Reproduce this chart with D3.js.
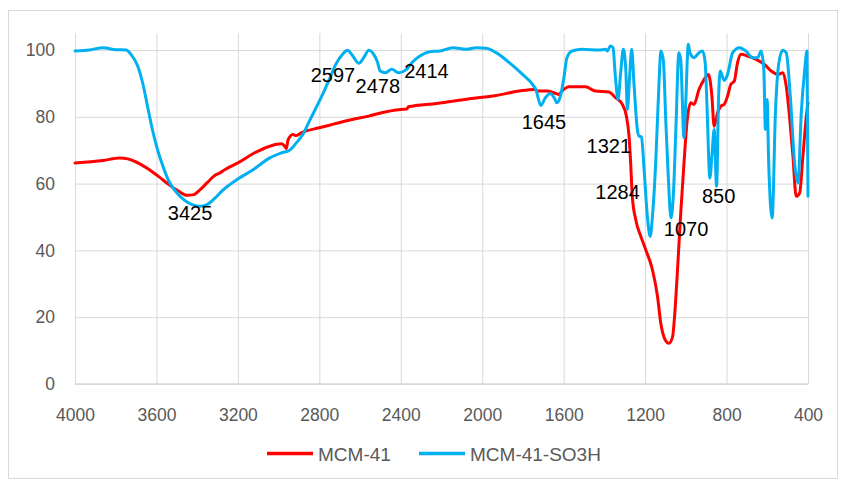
<!DOCTYPE html>
<html>
<head>
<meta charset="utf-8">
<script src="https://cdn.jsdelivr.net/npm/d3@7"></script>
<style>
  html, body { margin: 0; padding: 0; background: #fff; }
  svg { display: block; font-family: "Liberation Sans", Arial, sans-serif; }
</style>
</head>
<body>
<svg id="chart" width="843" height="479"></svg>
<script>
// ---- data ----
const seriesNames = ["MCM-41", "MCM-41-SO3H"];
const xTicks = [4000, 3600, 3200, 2800, 2400, 2000, 1600, 1200, 800, 400];
const yTicks = [0, 20, 40, 60, 80, 100];

const mcmWn = [4000,3862,3781,3740,3684,3636,3587,3539,3490,3450,3417,3385,3352,3312,3288,3263,3240,3200,3124,3043,2986,2970,2962,2954,2930,2913,2889,2800,2719,2638,2557,2509,2400,2370,2363,2224,2062,1932,1818,1745,1723,1682,1649,1625,1600,1575,1493,1444,1378,1345,1312,1292,1279,1271,1263,1246,1221,1197,1164,1139,1123,1101,1083,1065,1055,1042,1025,1009,993,976,960,935,910,889,872,861,844,828,812,795,779,762,746,729,696,655,614,581,548,523,507,491,474,458,441,425,408,400];
const mcmT  = [66.2,66.9,67.7,67.4,66.0,64.2,62.0,59.7,57.7,56.5,56.7,58.2,60.2,62.5,63.2,64.2,65.0,66.2,69.0,71.2,71.9,71.2,70.5,73.0,74.7,74.4,75.2,76.7,78.0,79.2,80.2,81.0,82.2,82.3,83.0,84.0,85.4,86.4,87.7,88.2,87.7,87.7,87.2,86.7,88.2,89.0,89.0,87.7,87.4,85.7,83.7,80.2,74.2,66.2,56.2,49.2,44.2,40.2,34.2,26.2,18.2,13.2,12.2,14.2,20.5,33.0,51.2,66.2,79.2,84.2,83.7,88.2,91.2,92.7,86.2,77.2,81.2,83.2,83.7,86.2,89.7,90.7,96.2,98.7,98.2,97.2,95.7,93.7,92.7,93.2,89.2,80.2,68.2,56.2,57.2,68.2,80.2,84.2];

const so3hWn = [4000,3930,3862,3800,3749,3725,3692,3668,3644,3620,3595,3571,3539,3506,3466,3425,3385,3352,3312,3288,3271,3240,3200,3124,3043,2986,2946,2913,2881,2849,2816,2784,2751,2719,2686,2662,2638,2606,2582,2557,2533,2515,2501,2476,2444,2411,2371,2346,2306,2257,2208,2143,2078,2029,1980,1932,1867,1802,1753,1737,1712,1690,1665,1645,1633,1616,1600,1584,1559,1509,1427,1394,1386,1370,1358,1345,1333,1320,1307,1295,1287,1276,1266,1254,1238,1230,1218,1205,1189,1175,1164,1148,1131,1123,1111,1098,1087,1073,1060,1049,1034,1025,1009,1000,988,980,960,935,918,905,896,882,872,861,849,839,831,812,795,770,737,705,672,647,630,617,609,601,593,576,560,543,524,507,487,466,449,433,416,405,400];
const so3hT  = [99.7,100.0,100.7,100.1,100.0,98.7,95.2,90.2,83.2,76.2,70.2,65.7,60.7,57.7,55.2,53.7,53.2,53.7,55.7,57.2,58.2,59.7,61.4,64.2,67.7,69.2,70.0,72.2,74.7,78.7,82.7,86.7,91.2,95.7,98.7,99.9,98.4,96.0,97.7,99.9,98.7,96.5,93.7,93.2,94.2,93.2,94.2,96.2,98.2,99.5,99.7,100.7,100.2,100.7,100.5,99.2,96.2,92.7,89.7,88.2,83.4,85.7,87.0,85.5,84.2,86.2,91.2,97.7,99.7,100.2,100.0,100.2,99.7,101.2,100.7,91.2,85.2,93.2,100.2,94.2,82.2,92.2,100.2,89.2,76.2,74.2,74.0,64.2,50.2,44.2,50.2,66.2,91.2,99.7,97.2,78.2,63.2,49.7,58.2,76.2,99.2,97.0,73.7,85.0,101.7,99.2,97.7,99.2,99.7,96.2,83.2,61.7,68.2,76.2,59.2,86.2,93.7,90.9,92.7,99.2,100.7,99.7,97.7,97.7,99.7,94.2,76.2,85.2,66.2,49.7,81.2,96.2,99.9,99.2,86.2,66.2,60.2,81.2,94.2,99.7,56.2];

const annLabels = ["3425","2597","2478","2414","1645","1321","1284","1070","850"];
const annWn     = [3435, 2733, 2513, 2274, 1697, 1378, 1335, 999, 839];
const annT      = [49.1, 90.5, 87.1, 91.6, 76.3, 69.3, 55.4, 44.2, 54.2];

// ---- drawing ----
const svg = d3.select("#chart");
const colors = ["#FF0000", "#00B0F0"];
const plot = { left: 75, right: 808, top: 33.3, bottom: 384 };

// chart border
svg.append("rect")
  .attr("x", 8.5).attr("y", 10.5).attr("width", 829).attr("height", 468)
  .attr("fill", "#fff").attr("stroke", "#d9d9d9").attr("stroke-width", 1);

const x = d3.scaleLinear().domain([4000, 400]).range([plot.left, plot.right]);
const y = d3.scaleLinear().domain([0, 105]).range([plot.bottom, plot.top]);

// gridlines
const gx = svg.append("g").attr("transform", `translate(0,${plot.bottom})`)
  .call(d3.axisBottom(x).tickValues(xTicks).tickSize(-(plot.bottom - plot.top)).tickFormat(""));
gx.select(".domain").remove();
gx.selectAll("line").attr("stroke", "#d9d9d9");

const gy = svg.append("g").attr("transform", `translate(${plot.left},0)`)
  .call(d3.axisLeft(y).tickValues(yTicks).tickSize(-(plot.right - plot.left)).tickFormat(""));
gy.select(".domain").remove();
gy.selectAll("line").attr("stroke", "#d9d9d9");

// axis lines
svg.append("line").attr("x1", plot.left).attr("x2", plot.right)
  .attr("y1", plot.bottom).attr("y2", plot.bottom).attr("stroke", "#d9d9d9").attr("stroke-width", 1.5);

// tick labels
const ax = svg.append("g").attr("transform", `translate(0,${plot.bottom})`)
  .call(d3.axisBottom(x).tickValues(xTicks).tickSize(0).tickPadding(25).tickFormat(d3.format("d")));
ax.select(".domain").remove();
ax.selectAll("text").attr("fill", "#595959").style("font-size", "17.5px")
  .style("font-family", '"Liberation Sans", Arial, sans-serif');

const ay = svg.append("g").attr("transform", `translate(${plot.left},0)`)
  .call(d3.axisLeft(y).tickValues(yTicks).tickSize(0).tickPadding(20).tickFormat(d3.format("d")));
ay.select(".domain").remove();
ay.selectAll("text").attr("fill", "#595959").style("font-size", "17.5px")
  .style("font-family", '"Liberation Sans", Arial, sans-serif');

// series
const line = d3.line().x(d => x(d[0])).y(d => y(d[1])).curve(d3.curveMonotoneX);
const series = [
  d3.zip(mcmWn, mcmT),
  d3.zip(so3hWn, so3hT)
];
series.forEach((s, i) => {
  svg.append("path").datum(s)
    .attr("d", line)
    .attr("fill", "none")
    .attr("stroke", colors[i])
    .attr("stroke-width", 3)
    .attr("stroke-linejoin", "round")
    .attr("stroke-linecap", "round");
});

// annotations
svg.append("g").selectAll("text").data(annLabels).join("text")
  .attr("x", (d, i) => x(annWn[i]))
  .attr("y", (d, i) => y(annT[i]))
  .attr("text-anchor", "middle")
  .attr("fill", "#000")
  .style("font-size", "20px")
  .text(d => d);

// legend
const legendX = [267, 419];
const leg = svg.append("g");
seriesNames.forEach((name, i) => {
  leg.append("line")
    .attr("x1", legendX[i]).attr("x2", legendX[i] + 46)
    .attr("y1", 453.5).attr("y2", 453.5)
    .attr("stroke", colors[i]).attr("stroke-width", 3.5);
  leg.append("text")
    .attr("x", legendX[i] + 51).attr("y", 460.5)
    .attr("fill", "#595959")
    .style("font-size", "19px")
    .text(name);
});
</script>
</body>
</html>
